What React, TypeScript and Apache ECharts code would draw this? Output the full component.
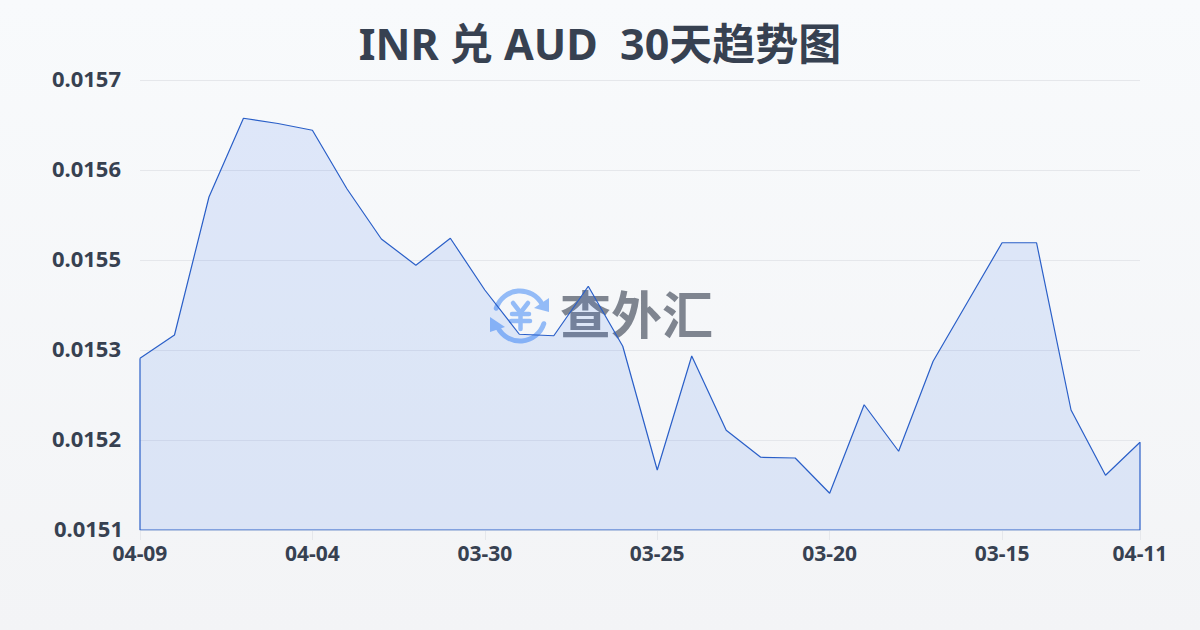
import React, { useEffect, useRef } from "react";
import * as echarts from "echarts";

const titleText = "INR 兑 AUD  30天趋势图";
const brandText = "查外汇";
const categories = [
  "04-09","04-08","04-07","04-06","04-05","04-04","04-03","04-02","04-01","03-31",
  "03-30","03-29","03-28","03-27","03-26","03-25","03-24","03-23","03-22","03-21",
  "03-20","03-19","03-18","03-17","03-16","03-15","03-14","03-13","03-12","04-11",
];
const rates = [
  0.015329,0.01536,0.015544,0.015649,0.015642,0.015633,0.015555,0.015488,0.015453,0.015489,
  0.01542,0.015361,0.015359,0.015425,0.015345,0.01518,0.015332,0.015233,0.015197,0.015196,
  0.015149,0.015267,0.015205,0.015325,0.015404,0.015483,0.015483,0.01526,0.015173,0.015217,
];
const yMin = 0.0151;
const yMax = 0.0157;
const yStep = 0.00012;

const textColor = "#374151";
const lineColor = "#2a5fc8";
const iconColor = "#93bbf7";
const fonts = '"Noto Sans","Noto Sans CJK SC",sans-serif';
const showTick = (i: number) => i % 5 === 0 || i === categories.length - 1;

export default function App() {
  const ref = useRef<HTMLDivElement>(null);
  useEffect(() => {
    document.body.style.margin = "0";
    const chart = echarts.init(ref.current!, undefined, { renderer: "svg" });
    const iconStroke = { stroke: iconColor, lineWidth: 5, fill: "none", lineCap: "round" };
    const yen = { stroke: iconColor, lineWidth: 4.5, lineCap: "round" };
    const yLabel = { color: textColor, fontSize: 22, fontWeight: "bold", fontFamily: fonts };
    chart.setOption({
      animation: false,
      backgroundColor: new echarts.graphic.LinearGradient(0, 0, 0, 1, [
        { offset: 0, color: "#f8fafc" },
        { offset: 1, color: "#f3f4f6" },
      ]),
      title: {
        text: titleText,
        left: "center",
        top: 17,
        textStyle: { color: textColor, fontSize: 43, fontWeight: "bold", fontFamily: fonts },
      },
      grid: { left: 140, right: 60, top: 80, bottom: 100 },
      xAxis: {
        type: "category",
        boundaryGap: false,
        data: categories,
        axisLine: { show: false },
        axisTick: { show: true, length: 10, interval: showTick, lineStyle: { color: "#e5e7eb" } },
        axisLabel: {
          interval: showTick,
          color: textColor,
          fontSize: 21,
          fontWeight: "bold",
          fontFamily: fonts,
          margin: 12,
        },
        splitLine: { show: false },
      },
      yAxis: {
        type: "value",
        min: yMin,
        max: yMax,
        interval: yStep,
        axisLine: { show: false },
        axisTick: { show: false },
        axisLabel: {
          ...yLabel,
          margin: 17,
          formatter: (v: number) => (v === yMin ? `{low|${v.toFixed(4)}}` : `{tick|${v.toFixed(4)}}`),
          rich: {
            tick: { ...yLabel, padding: [0, 2, 4, 0] },
            low: { ...yLabel, padding: [0, 0, 5, 0] },
          },
        },
        splitLine: { show: true, lineStyle: { color: "#e5e7eb", width: 1 } },
      },
      graphic: [
        {
          type: "group",
          z: 0,
          silent: true,
          children: [
            { type: "arc", shape: { cx: 520, cy: 316, r: 25, startAngle: Math.PI * 1.1, endAngle: Math.PI * 1.85 }, style: iconStroke },
            { type: "arc", shape: { cx: 520, cy: 316, r: 25, startAngle: Math.PI * 0.1, endAngle: Math.PI * 0.85 }, style: iconStroke },
            { type: "polygon", shape: { points: [[549, 298], [549, 312], [534, 308]] }, style: { fill: iconColor } },
            { type: "polygon", shape: { points: [[490, 317], [490, 332], [505, 327]] }, style: { fill: iconColor } },
            { type: "line", shape: { x1: 513, y1: 303, x2: 520, y2: 312 }, style: yen },
            { type: "line", shape: { x1: 528, y1: 303, x2: 521, y2: 312 }, style: yen },
            { type: "line", shape: { x1: 512, y1: 314, x2: 529, y2: 314 }, style: yen },
            { type: "line", shape: { x1: 511, y1: 321, x2: 530, y2: 321 }, style: yen },
            { type: "line", shape: { x1: 520.5, y1: 312, x2: 520.5, y2: 329 }, style: yen },
            {
              type: "text",
              x: 560,
              y: 286,
              style: {
                text: brandText,
                fill: "#7f8590",
                font: 'bold 51px "Noto Sans CJK SC",sans-serif',
              },
            },
          ],
        },
      ],
      series: [
        {
          name: "INR/AUD",
          type: "line",
          data: rates,
          symbol: "none",
          smooth: false,
          z: 3,
          lineStyle: { color: lineColor, width: 1.2 },
          areaStyle: { color: "rgba(37,99,235,0.17)" },
        },
        {
          name: "edge",
          type: "line",
          symbol: "none",
          z: 3,
          lineStyle: { color: lineColor, width: 1.2 },
          data: [
            [categories[categories.length - 1], rates[rates.length - 1]],
            [categories[categories.length - 1], yMin],
            [categories[0], yMin],
            [categories[0], rates[0]],
          ],
        },
      ],
    });
    return () => chart.dispose();
  }, []);
  return <div ref={ref} style={{ width: 1200, height: 630 }} />;
}
